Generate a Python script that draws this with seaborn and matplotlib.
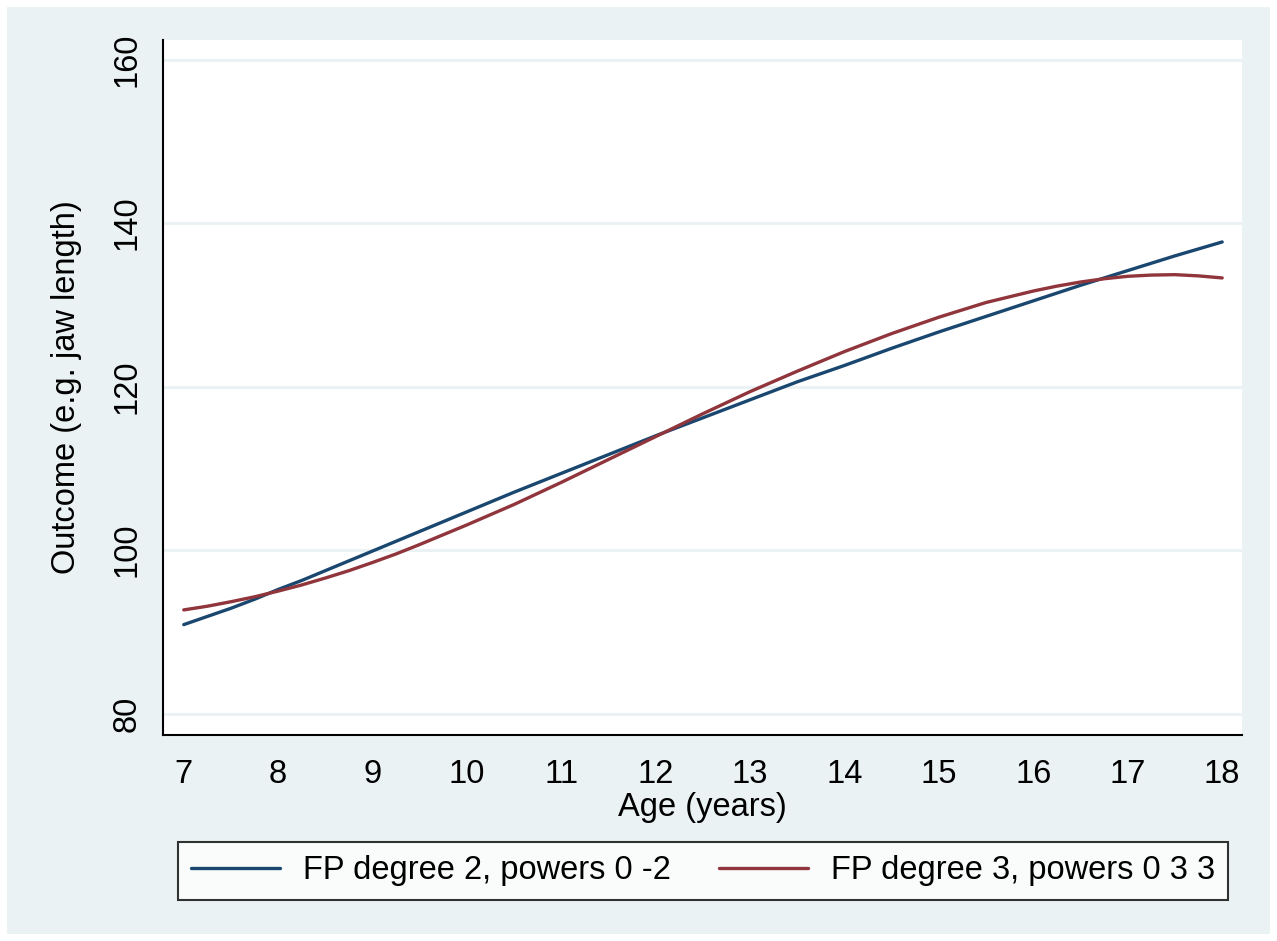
import numpy as np
import pandas as pd
import matplotlib
matplotlib.use("Agg")
import matplotlib.pyplot as plt
import seaborn as sns
from matplotlib.patches import Rectangle

# ---- data ----
age = [7, 7.25, 7.5, 7.75, 8, 8.25, 8.5, 8.75, 9, 9.25, 9.5, 9.75,
       10, 10.25, 10.5, 10.75, 11, 11.25, 11.5, 11.75, 12, 12.25, 12.5, 12.75,
       13, 13.25, 13.5, 13.75, 14, 14.25, 14.5, 14.75, 15, 15.25, 15.5, 15.75,
       16, 16.25, 16.5, 16.75, 17, 17.25, 17.5, 17.75, 18]
fp2 = [90.9, 91.9, 92.9, 94.0, 95.2, 96.3, 97.5, 98.7, 99.9, 101.1, 102.3, 103.5,
       104.7, 105.9, 107.1, 108.25, 109.4, 110.55, 111.7, 112.85, 114.0, 115.1, 116.2, 117.3,
       118.4, 119.5, 120.6, 121.6, 122.6, 123.65, 124.7, 125.7, 126.7, 127.65, 128.6, 129.55,
       130.5, 131.45, 132.4, 133.3, 134.2, 135.1, 136.0, 136.85, 137.7]
fp3 = [92.7, 93.15, 93.7, 94.3, 95.0, 95.75, 96.6, 97.5, 98.5, 99.55, 100.7, 101.9,
       103.1, 104.35, 105.6, 106.95, 108.3, 109.7, 111.1, 112.5, 113.9, 115.3, 116.7, 118.05,
       119.4, 120.65, 121.9, 123.1, 124.3, 125.4, 126.5, 127.5, 128.5, 129.4, 130.3, 131.0,
       131.7, 132.3, 132.8, 133.2, 133.5, 133.65, 133.7, 133.55, 133.3]
series_names = ["FP degree 2, powers 0 -2", "FP degree 3, powers 0 3 3"]
x_ticks = [7, 8, 9, 10, 11, 12, 13, 14, 15, 16, 17, 18]
y_ticks = [80, 100, 120, 140, 160]
x_label = "Age (years)"
y_label = "Outcome (e.g. jaw length)"

df = pd.DataFrame({
    "age": age * 2,
    "value": fp2 + fp3,
    "model": [series_names[0]] * len(age) + [series_names[1]] * len(age),
})

sns.set_theme(style="white")
plt.rcParams["font.family"] = ["Liberation Sans", "DejaVu Sans"]
plt.rcParams["text.color"] = "black"

BG = "#eaf2f3"
W, H = 1277, 941
fig = plt.figure(figsize=(W / 100, H / 100), dpi=100, facecolor="white")
fig.patches.append(Rectangle((7 / W, 7 / H), (W - 14) / W, (H - 14) / H,
                             transform=fig.transFigure, facecolor=BG,
                             edgecolor="none", zorder=-10))

ax = fig.add_axes([163 / W, (H - 735) / H, (1242 - 163) / W, (735 - 40) / H])
ax.set_facecolor("white")

palette = {series_names[0]: "#1a476f", series_names[1]: "#90353b"}
sns.lineplot(data=df, x="age", y="value", hue="model", palette=palette,
             linewidth=2.4, ax=ax, legend=False, sort=True)

ax.set_xlim(6.78, 18.21)
ax.set_ylim(77.4, 162.4)
ax.set_xticks(x_ticks)
ax.set_yticks(y_ticks)
ax.set_yticklabels([str(v) for v in y_ticks], rotation=90, va="center")
for y in y_ticks:
    ax.axhline(y, color=BG, linewidth=2.2, zorder=0)

for s in ["top", "right"]:
    ax.spines[s].set_visible(False)
for s in ["left", "bottom"]:
    ax.spines[s].set_color("black")
    ax.spines[s].set_linewidth(1.5)

fs = 23.5
ax.tick_params(axis="both", direction="out", length=9, width=1.5,
               colors="black", labelsize=fs)
ax.tick_params(axis="x", pad=8)
ax.tick_params(axis="y", pad=6)
ax.set_xlabel(x_label, fontsize=fs, labelpad=2, color="black")
ax.set_ylabel(y_label, fontsize=fs, labelpad=21, color="black")

handles = [plt.Line2D([], [], color=palette[n], linewidth=2.4) for n in series_names]
leg = fig.legend(handles, series_names, loc="center",
                 bbox_to_anchor=((176 + 1230) / 2 / W, 1 - 871 / H),
                 ncol=2, fontsize=fs, frameon=True, fancybox=False,
                 edgecolor="black", handlelength=2.75, handletextpad=0.7,
                 columnspacing=1.45, borderpad=0.4, borderaxespad=0)
leg.get_frame().set_linewidth(1.5)
leg.get_frame().set_facecolor("white")
for t in leg.get_texts():
    t.set_color("black")

fig.savefig("out.png", dpi=100, facecolor="white")
